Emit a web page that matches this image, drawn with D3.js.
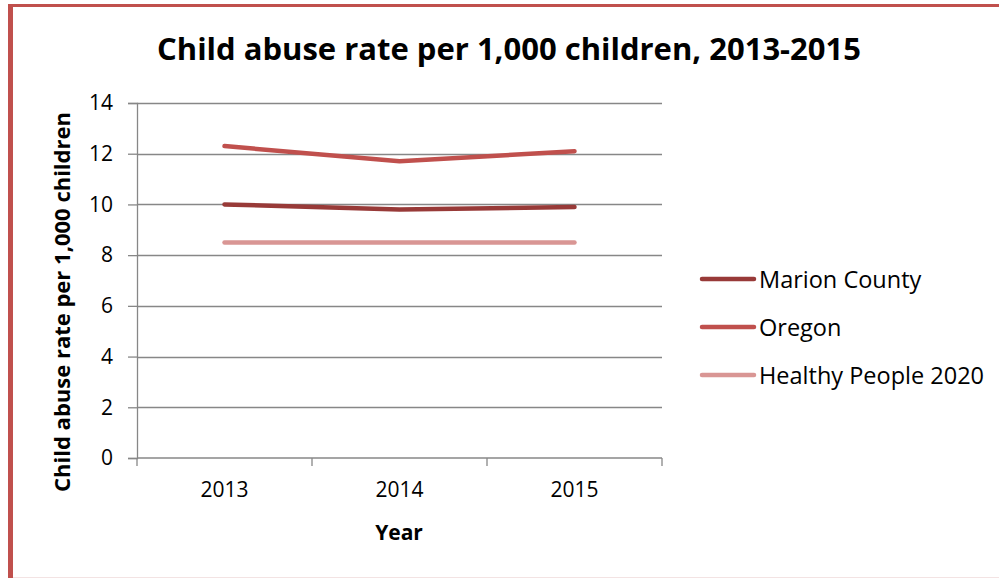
<!DOCTYPE html>
<html><head><meta charset="utf-8">
<script src="https://cdn.jsdelivr.net/npm/d3@7"></script>
<style>body{margin:0;background:#fff}svg{display:block}</style>
</head><body>
<svg id="c" width="999" height="578"></svg>
<script>
const years = ["2013","2014","2015"];
const marion = [10.0, 9.8, 9.9];
const oregon = [12.3, 11.7, 12.1];
const healthy = [8.5, 8.5, 8.5];
const seriesNames = ["Marion County","Oregon","Healthy People 2020"];
const seriesColors = ["#983a38","#c0504d","#d99694"];
const yTicks = [0,2,4,6,8,10,12,14];
const title = "Child abuse rate per 1,000 children, 2013-2015";
const yTitle = "Child abuse rate per 1,000 children";
const xTitle = "Year";

const font = "'Open Sans', sans-serif";
const svg = d3.select("#c");
// frame
svg.append("rect").attr("x",8).attr("y",4).attr("width",991).attr("height",3).attr("fill","#c0504d");
svg.append("rect").attr("x",8).attr("y",4).attr("width",5).attr("height",574).attr("fill","#c0504d");
svg.append("line").attr("x1",13).attr("x2",999).attr("y1",577.5).attr("y2",577.5).attr("stroke","#f3e3e3");

const L=137, R=662, T=103, B=458;
const x = d3.scaleBand().domain(years).range([L,R]);
const y = d3.scaleLinear().domain([0,14]).range([B,T]);

// gridlines
svg.append("g").selectAll("line").data(yTicks.filter(d=>d>0)).join("line")
  .attr("x1",L).attr("x2",R).attr("y1",d=>Math.round(y(d))+0.5).attr("y2",d=>Math.round(y(d))+0.5)
  .attr("stroke","#878787").attr("stroke-width",1.3);

// y axis
const ya = svg.append("g").attr("transform",`translate(${L},0)`)
  .call(d3.axisLeft(y).tickValues(yTicks).tickSize(9).tickPadding(15));
ya.select(".domain").attr("stroke","#878787").attr("stroke-width",1.3);
ya.selectAll(".tick line").attr("stroke","#878787").attr("stroke-width",1.3);
ya.selectAll("text").attr("font-family",font).attr("font-size",21).attr("fill","#000");

// x axis
const xa = svg.append("g").attr("transform",`translate(0,${B})`)
  .call(d3.axisBottom(x).tickSize(0).tickPadding(24));
xa.select(".domain").attr("d",`M${L},0H${R}`).attr("stroke","#878787").attr("stroke-width",1.3);
xa.selectAll("text").attr("font-family",font).attr("font-size",21).attr("fill","#000");
svg.append("g").selectAll("line").data([L,...years.map(d=>x(d)+x.bandwidth())]).join("line")
  .attr("x1",d=>d).attr("x2",d=>d).attr("y1",B).attr("y2",B+8)
  .attr("stroke","#878787").attr("stroke-width",1.3);

// lines
const data = [marion, oregon, healthy];
const line = d3.line().x((d,i)=>x(years[i])+x.bandwidth()/2).y(d=>y(d));
[2,0,1].forEach(k=>{
  svg.append("path").attr("d",line(data[k])).attr("fill","none")
    .attr("stroke",seriesColors[k]).attr("stroke-width",4.5)
    .attr("stroke-linecap","round").attr("stroke-linejoin","round");
});

// legend
const lg = svg.append("g");
seriesNames.forEach((n,i)=>{
  const yy = 279 + i*48;
  lg.append("line").attr("x1",702).attr("x2",754).attr("y1",yy).attr("y2",yy)
    .attr("stroke",seriesColors[i]).attr("stroke-width",4.5).attr("stroke-linecap","round");
  lg.append("text").attr("x",759).attr("y",yy+9).text(n)
    .attr("font-family",font).attr("font-size",23.5).attr("fill","#000");
});

// titles
svg.append("text").attr("x",509).attr("y",60).attr("text-anchor","middle").text(title)
  .attr("font-family",font).attr("font-weight","bold").attr("font-size",31).attr("fill","#000");
svg.append("text").attr("transform","translate(70,302) rotate(-90)").attr("text-anchor","middle").text(yTitle)
  .attr("font-family",font).attr("font-weight","bold").attr("font-size",22).attr("fill","#000");
svg.append("text").attr("x",399).attr("y",540).attr("text-anchor","middle").text(xTitle)
  .attr("font-family",font).attr("font-weight","bold").attr("font-size",21).attr("fill","#000");
</script>
</body></html>
